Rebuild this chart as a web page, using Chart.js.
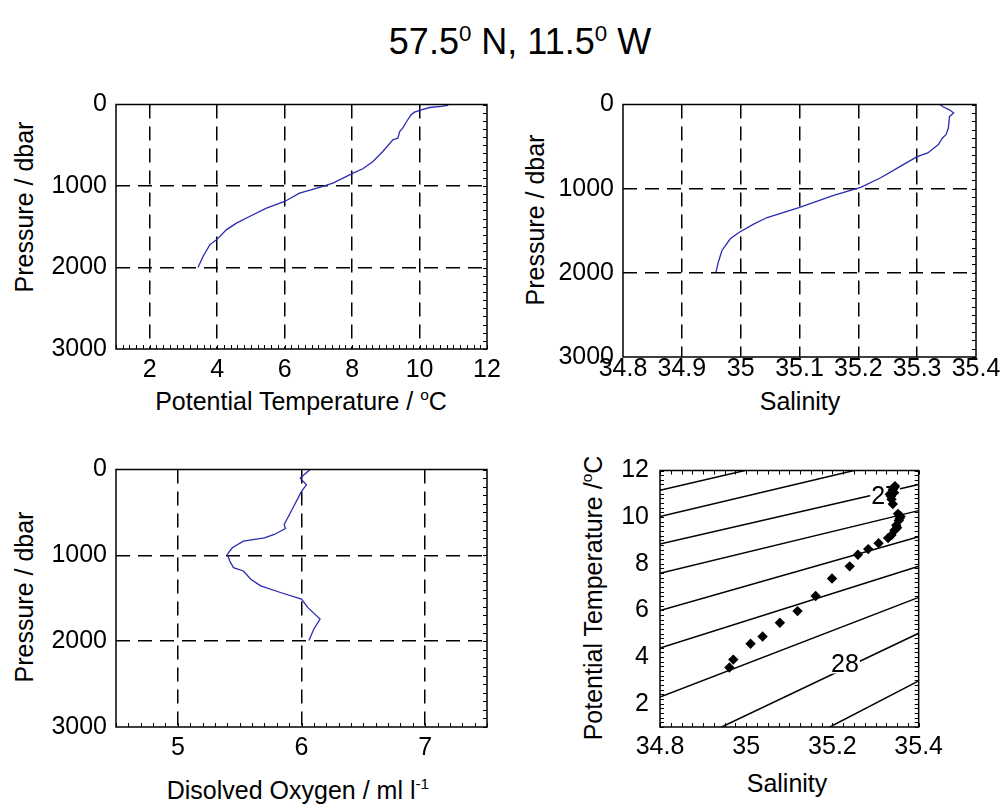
<!DOCTYPE html>
<html><head><meta charset="utf-8">
<script src="https://cdn.jsdelivr.net/npm/chart.js@4.4.1/dist/chart.umd.min.js"></script>
<style>
html,body{margin:0;padding:0;background:#fff;}
body{width:1005px;height:812px;overflow:hidden;position:relative;font-family:"Liberation Sans",Arial,sans-serif;color:#000;}
canvas{position:absolute;}
.lbl{position:absolute;font-size:25px;white-space:nowrap;line-height:1;transform:translate(-50%,-50%);}
.rot{transform:translate(-50%,-50%) rotate(-90deg);}
.ttl{font-size:36px;}
sup{font-size:0.62em;vertical-align:0.6em;line-height:0;}
</style></head>
<body>
<div class="lbl ttl" style="left:520px;top:42px">57.5<sup>0</sup> N, 11.5<sup>0</sup> W</div>
<div class="lbl rot" style="left:24px;top:207px">Pressure / dbar</div>
<div class="lbl" style="left:301px;top:401px">Potential Temperature / <sup>o</sup>C</div>
<div class="lbl rot" style="left:535px;top:220px">Pressure / dbar</div>
<div class="lbl" style="left:800px;top:401px">Salinity</div>
<div class="lbl rot" style="left:24px;top:597px">Pressure / dbar</div>
<div class="lbl" style="left:298px;top:790px">Disolved Oxygen / ml l<sup>-1</sup></div>
<div class="lbl rot" style="left:593px;top:598px">Potential Temperature /<sup>o</sup>C</div>
<div class="lbl" style="left:787px;top:783px">Salinity</div>
<script>
// ---------------- DATA ----------------
const tempPressure = [0, 12, 24, 37, 65, 94, 126, 187, 290, 331, 411, 434, 577, 699, 789, 843, 965, 1018, 1088, 1190, 1272, 1374, 1456, 1538, 1661, 1722, 1865, 2000];
const tempValues   = [10.85, 10.83, 10.64, 10.3, 10.05, 9.85, 9.75, 9.65, 9.5, 9.41, 9.36, 9.21, 8.91, 8.62, 8.32, 8.03, 7.43, 7.04, 6.44, 6.0, 5.46, 4.96, 4.57, 4.27, 3.98, 3.78, 3.58, 3.43];

const salPressure = [0, 24, 63, 102, 142, 280, 358, 398, 476, 575, 620, 732, 870, 985, 1079, 1224, 1343, 1421, 1520, 1599, 1737, 1874, 1995];
const salValues   = [35.339, 35.343, 35.355, 35.362, 35.355, 35.353, 35.349, 35.343, 35.336, 35.318, 35.300, 35.272, 35.238, 35.204, 35.158, 35.099, 35.045, 35.022, 34.997, 34.982, 34.968, 34.962, 34.958];

const oxyPressure = [0, 100, 178, 255, 448, 641, 687, 757, 796, 834, 912, 989, 1066, 1143, 1182, 1278, 1356, 1433, 1510, 1607, 1742, 1858, 1993];
const oxyValues   = [6.07, 5.99, 6.04, 6.0, 5.93, 5.86, 5.87, 5.78, 5.70, 5.53, 5.44, 5.40, 5.42, 5.45, 5.53, 5.59, 5.67, 5.83, 6.0, 6.05, 6.15, 6.10, 6.06];

const tsSalinity    = [34.961, 34.970, 35.010, 35.038, 35.078, 35.119, 35.161, 35.199, 35.240, 35.259, 35.283, 35.307, 35.329, 35.337, 35.344, 35.350, 35.348, 35.354, 35.356, 35.358, 35.352, 35.340, 35.336, 35.337, 35.333, 35.343, 35.340, 35.344, 35.345];
const tsTemperature = [3.55, 3.89, 4.57, 4.88, 5.47, 5.97, 6.62, 7.37, 7.89, 8.39, 8.63, 8.88, 9.10, 9.23, 9.44, 9.55, 9.65, 9.86, 9.95, 10.03, 10.14, 10.56, 10.90, 10.77, 10.98, 11.05, 11.19, 11.28, 11.33];

const sigmaLevels = ['26.6', '26.8', '27.0', '27.2', '27.4', '27.6', '27.8', '28.0', '28.2'];
const sigmaSal  = [[34.8, 34.997], [34.8, 35.25], [34.8, 35.4], [34.8, 35.4], [34.8, 35.4], [34.8, 35.4], [34.8, 35.4], [34.943, 35.4], [35.194, 35.4]];
const sigmaTemp = [[11.15, 12.0], [10.03, 12.0], [8.85, 11.40], [7.59, 10.28], [6.0, 9.16], [4.39, 7.89], [2.28, 6.56], [1.0, 5.02], [1.0, 2.98]];
const tsLabelText = ['27', '28'];
const tsLabelSal  = [35.322, 35.229];
const tsLabelTemp = [10.9, 3.68];

const pressureTicks = [0, 1000, 2000, 3000];
const pressureTickLabels = ['0', '1000', '2000', '3000'];
const tempTicks = [2, 4, 6, 8, 10, 12];
const tempTickLabels = ['2', '4', '6', '8', '10', '12'];
const salTicks = [34.8, 34.9, 35.0, 35.1, 35.2, 35.3, 35.4];
const salTickLabels = ['34.8', '34.9', '35', '35.1', '35.2', '35.3', '35.4'];
const oxyTicks = [5, 6, 7];
const oxyTickLabels = ['5', '6', '7'];
const tsSalTicks = [34.8, 35.0, 35.2, 35.4];
const tsSalTickLabels = ['34.8', '35', '35.2', '35.4'];
const tsTempTicks = [2, 4, 6, 8, 10, 12];
const tsTempTickLabels = ['2', '4', '6', '8', '10', '12'];

// ---------------- LAYOUT ----------------
const AXW = 110, AXH = 45, PADT = 20, PADR = 32;
const FONT = {family: '"Liberation Sans", Arial, sans-serif', size: 25, lineHeight: 1};
const LINE_BLUE = '#2b2bb0';

function makeCanvas(rect) {
  const c = document.createElement('canvas');
  c.width = rect.r - rect.l + AXW + PADR;
  c.height = rect.b - rect.t + PADT + AXH;
  c.style.left = (rect.l - AXW) + 'px';
  c.style.top = (rect.t - PADT) + 'px';
  document.body.appendChild(c);
  return c;
}

function linScale(min, max, ticks, labels, o) {
  return {
    type: 'linear', min: min, max: max, reverse: !!o.reverse,
    afterBuildTicks: s => { s.ticks = ticks.map(v => ({value: v})); },
    afterFit: s => { if (s.isHorizontal()) s.height = AXH; else s.width = AXW; },
    grid: {
      display: !!o.grid, drawTicks: false, lineWidth: 1.5,
      color: c => (c.tick && (Math.abs(c.tick.value - min) < 1e-9 || Math.abs(c.tick.value - max) < 1e-9)) ? 'rgba(0,0,0,0)' : '#000'
    },
    border: {display: false, dash: [14, 8]},
    ticks: {color: '#000', font: FONT, padding: o.pad, autoSkip: false, maxRotation: 0, minRotation: 0,
            callback: (v, i) => labels[i]}
  };
}

const framePlugin = {
  id: 'frame',
  afterDatasetsDraw(chart, args, o) {
    const {ctx, chartArea: a} = chart;
    const x = chart.scales.x, y = chart.scales.y;
    const sides = o.sides || '';
    const len = o.len || 4;
    ctx.save();
    ctx.strokeStyle = '#000';
    ctx.lineWidth = 1;
    ctx.beginPath();
    if (o.xMinor) {
      const n = Math.round((x.max - x.min) / o.xMinor);
      for (let i = 0; i <= n; i++) {
        const px = Math.round(x.getPixelForValue(x.min + i * o.xMinor)) + 0.5;
        if (sides.includes('b')) { ctx.moveTo(px, a.bottom); ctx.lineTo(px, a.bottom - len); }
        if (sides.includes('t')) { ctx.moveTo(px, a.top); ctx.lineTo(px, a.top + len); }
      }
    }
    if (o.yMinor) {
      const n = Math.round((y.max - y.min) / o.yMinor);
      for (let i = 0; i <= n; i++) {
        const py = Math.round(y.getPixelForValue(y.min + i * o.yMinor)) + 0.5;
        if (sides.includes('l')) { ctx.moveTo(a.left, py); ctx.lineTo(a.left + len, py); }
        if (sides.includes('r')) { ctx.moveTo(a.right, py); ctx.lineTo(a.right - len, py); }
      }
    }
    ctx.stroke();
    ctx.lineWidth = 1.5;
    ctx.strokeRect(a.left, a.top, a.right - a.left, a.bottom - a.top);
    ctx.restore();
  }
};

const contourLabelPlugin = {
  id: 'clabels',
  afterDatasetDraw(chart, args) {
    if (args.index !== 1) return;
    const {ctx} = chart;
    const x = chart.scales.x, y = chart.scales.y;
    ctx.save();
    ctx.font = '25px "Liberation Sans", Arial, sans-serif';
    ctx.textAlign = 'center';
    ctx.textBaseline = 'middle';
    tsLabelText.forEach((t, i) => {
      const px = x.getPixelForValue(tsLabelSal[i]);
      const py = y.getPixelForValue(tsLabelTemp[i]);
      const w = ctx.measureText(t).width;
      ctx.fillStyle = '#fff';
      ctx.fillRect(px - w / 2 - 1, py - 9, w + 2, 18);
      ctx.fillStyle = '#000';
      ctx.fillText(t, px, py + 1);
    });
    ctx.restore();
  }
};

function profileDataset(xs, ps) {
  return {
    data: xs.map((v, i) => ({x: v, y: ps[i]})),
    showLine: true, borderColor: LINE_BLUE, borderWidth: 1.3, pointRadius: 0, tension: 0
  };
}

function makeChart(rect, scales, datasets, frameOpts, extraPlugins) {
  const c = makeCanvas(rect);
  return new Chart(c, {
    type: 'scatter',
    data: {datasets: datasets},
    options: {
      responsive: false, animation: false, devicePixelRatio: 1,
      layout: {padding: {top: PADT, right: PADR, left: 0, bottom: 0}},
      plugins: {legend: {display: false}, tooltip: {enabled: false}, frame: frameOpts},
      scales: scales
    },
    plugins: [framePlugin].concat(extraPlugins || [])
  });
}

// Top-left: potential temperature profile
makeChart({l: 116, t: 103, r: 487, b: 349}, {
  x: linScale(1, 12, tempTicks, tempTickLabels, {grid: true, pad: 9}),
  y: linScale(0, 3000, pressureTicks, pressureTickLabels, {grid: true, pad: 9, reverse: true})
}, [profileDataset(tempValues, tempPressure)], {sides: 'br', xMinor: 0.2, yMinor: 100, len: 4});

// Top-right: salinity profile
makeChart({l: 623, t: 103, r: 976, b: 357}, {
  x: linScale(34.8, 35.4, salTicks, salTickLabels, {grid: true, pad: 0}),
  y: linScale(0, 3000, pressureTicks, pressureTickLabels, {grid: true, pad: 9, reverse: true})
}, [profileDataset(salValues, salPressure)], {sides: 'r', yMinor: 100, len: 4});

// Bottom-left: dissolved oxygen profile
makeChart({l: 116, t: 468, r: 487, b: 727}, {
  x: linScale(4.5, 7.5, oxyTicks, oxyTickLabels, {grid: true, pad: 9}),
  y: linScale(0, 3000, pressureTicks, pressureTickLabels, {grid: true, pad: 9, reverse: true})
}, [profileDataset(oxyValues, oxyPressure)], {sides: 'br', xMinor: 0.1, yMinor: 100, len: 4});

// Bottom-right: T-S diagram with density contours
const tsDatasets = [{
  data: tsSalinity.map((s, i) => ({x: s, y: tsTemperature[i]})),
  pointStyle: 'rectRot', pointRadius: 5.2, backgroundColor: '#000', borderColor: '#000', borderWidth: 0, showLine: false
}].concat(sigmaLevels.map((lev, k) => ({
  label: lev,
  data: sigmaSal[k].map((s, i) => ({x: s, y: sigmaTemp[k][i]})),
  showLine: true, borderColor: '#000', borderWidth: 1.5, pointRadius: 0, tension: 0
})));
makeChart({l: 660, t: 467, r: 919, b: 727}, {
  x: linScale(34.8, 35.4, tsSalTicks, tsSalTickLabels, {grid: false, pad: 8}),
  y: linScale(1, 12, tsTempTicks, tsTempTickLabels, {grid: false, pad: 11})
}, tsDatasets, {sides: 'lrtb', xMinor: 0.025, yMinor: 0.2, len: 4}, [contourLabelPlugin]);
</script>
</body></html>
